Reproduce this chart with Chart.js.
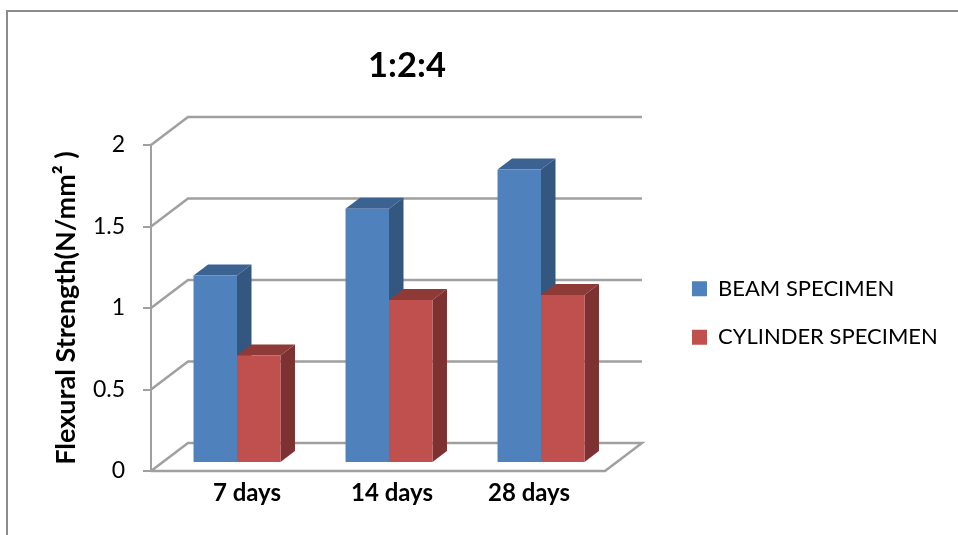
<!DOCTYPE html>
<html>
<head>
<meta charset="utf-8">
<title>1:2:4</title>
<script src="https://cdn.jsdelivr.net/npm/chart.js@4"></script>
<style>
    body { margin: 0; background: #fff; }
    canvas { display: block; }
</style>
</head>
<body>
<canvas id="chart" width="958" height="535"></canvas>
<script>
const categories = ["7 days", "14 days", "28 days"];
const beamValues = [1.15, 1.56, 1.80];
const cylinderValues = [0.66, 1.00, 1.03];
const yTicks = [0, 0.5, 1, 1.5, 2];

// the labels in the picture don't sit exactly under the groups
const labelShift = [20, 13, -2];

const wallX = 37, wallY = 28;   // depth of the floor and back wall
const plotX = 10, plotY = 8;    // where the bars stand on the floor
const barX = 14.5, barY = 11;   // depth of the bars
const gridColor = "#a0a0a0";

function poly(ctx, pts, color) {
    ctx.fillStyle = color;
    ctx.beginPath();
    pts.forEach((p, i) => i ? ctx.lineTo(p[0], p[1]) : ctx.moveTo(p[0], p[1]));
    ctx.closePath();
    ctx.fill();
}

const box3d = {
    id: "box3d",
    beforeDraw(chart) {
        const ctx = chart.ctx;
        ctx.save();
        ctx.fillStyle = "#fff";
        ctx.fillRect(0, 0, chart.width, chart.height);
        ctx.strokeStyle = "#8c8c8c";
        ctx.lineWidth = 2;
        ctx.beginPath();
        ctx.moveTo(7, chart.height);
        ctx.lineTo(7, 11);
        ctx.lineTo(chart.width, 11);
        ctx.stroke();
        ctx.restore();
    },
    afterLayout(chart) {
        // legend and title don't take room from the plot here
        const lg = chart.legend;
        lg.left = 665.5; lg.right = 665.5 + lg.width;
        lg.top = 150; lg.bottom = 150 + lg.height;
        chart.titleBlock.left = 407 - 100;
        chart.titleBlock.right = 407 + 100;
    },
    beforeDatasetsDraw(chart) {
        const ctx = chart.ctx, x = chart.scales.x, y = chart.scales.y;
        const right = x.right - 2;
        ctx.save();
        ctx.strokeStyle = gridColor;
        ctx.lineWidth = 2.5;
        yTicks.forEach(v => {
            const py = y.getPixelForValue(v);
            ctx.beginPath();
            ctx.moveTo(x.left, py);
            ctx.lineTo(x.left + wallX, py - wallY);
            ctx.lineTo(right + wallX, py - wallY);
            if (v === 0) {
                ctx.lineTo(right, py);
                ctx.lineTo(x.left, py);
            }
            ctx.stroke();
        });
        ctx.restore();

        // sides and tops first, the library paints the front faces over them
        ctx.save();
        ctx.translate(plotX, -plotY);
        chart.data.datasets.forEach((ds, i) => {
            chart.getDatasetMeta(i).data.forEach(bar => {
                const l = bar.x - bar.width / 2, r = bar.x + bar.width / 2;
                poly(ctx, [[l, bar.y], [l + barX, bar.y - barY], [r + barX, bar.y - barY], [r, bar.y]], ds.topColor);
                poly(ctx, [[r, bar.y], [r + barX, bar.y - barY], [r + barX, bar.base - barY], [r, bar.base]], ds.sideColor);
            });
        });
    },
    afterDatasetsDraw(chart) {
        const ctx = chart.ctx, x = chart.scales.x, y = chart.scales.y;
        ctx.restore();
        ctx.save();
        ctx.fillStyle = "#000";
        ctx.font = "bold 24px Lato";
        ctx.textAlign = "center";
        ctx.textBaseline = "middle";
        categories.forEach((c, i) => {
            ctx.fillText(c, x.getPixelForTick(i) + labelShift[i], y.bottom + 22);
        });
        ctx.restore();
    }
};

new Chart(document.getElementById("chart"), {
    type: "bar",
    data: {
        labels: categories,
        datasets: [
            { label: "BEAM SPECIMEN", data: beamValues, backgroundColor: "#4f81bd",
              sideColor: "#34577f", topColor: "#3b6291", clip: false },
            { label: "CYLINDER SPECIMEN", data: cylinderValues, backgroundColor: "#c0504d",
              sideColor: "#7d3231", topColor: "#8e3b38", clip: false }
        ]
    },
    options: {
        responsive: false,
        animation: false,
        layout: { padding: { left: 0, right: 351, top: 0, bottom: 56 } },
        scales: {
            x: {
                grid: { display: false },
                border: { display: false },
                ticks: { display: false }
            },
            y: {
                min: 0,
                max: 2,
                afterBuildTicks: s => { s.ticks = yTicks.map(v => ({ value: v })); },
                afterFit: s => { s.width = 151; },
                grid: { drawOnChartArea: false, color: gridColor, lineWidth: 2, tickLength: 8 },
                border: { color: gridColor, width: 2 },
                ticks: {
                    color: "#000",
                    padding: 18,
                    font: { family: "Lato", size: 23 },
                    callback: v => String(v)
                },
                title: {
                    display: true,
                    text: "Flexural Strength(N/mm² )",
                    color: "#000",
                    font: { family: "Lato", size: 27, weight: "bold" },
                    padding: { top: 50, bottom: 0 }
                }
            }
        },
        datasets: { bar: { categoryPercentage: 0.572, barPercentage: 1 } },
        plugins: {
            title: {
                display: true,
                text: "1:2:4",
                color: "#000",
                font: { family: "Lato", size: 34.5, weight: "bold" },
                padding: { top: 45, bottom: 58.6 }
            },
            legend: {
                position: "chartArea",
                labels: {
                    color: "#000",
                    boxWidth: 15,
                    boxHeight: 15,
                    padding: 26.5,
                    font: { family: "Lato", size: 22 }
                }
            },
            tooltip: { enabled: false }
        }
    },
    plugins: [box3d]
});
</script>
</body>
</html>
